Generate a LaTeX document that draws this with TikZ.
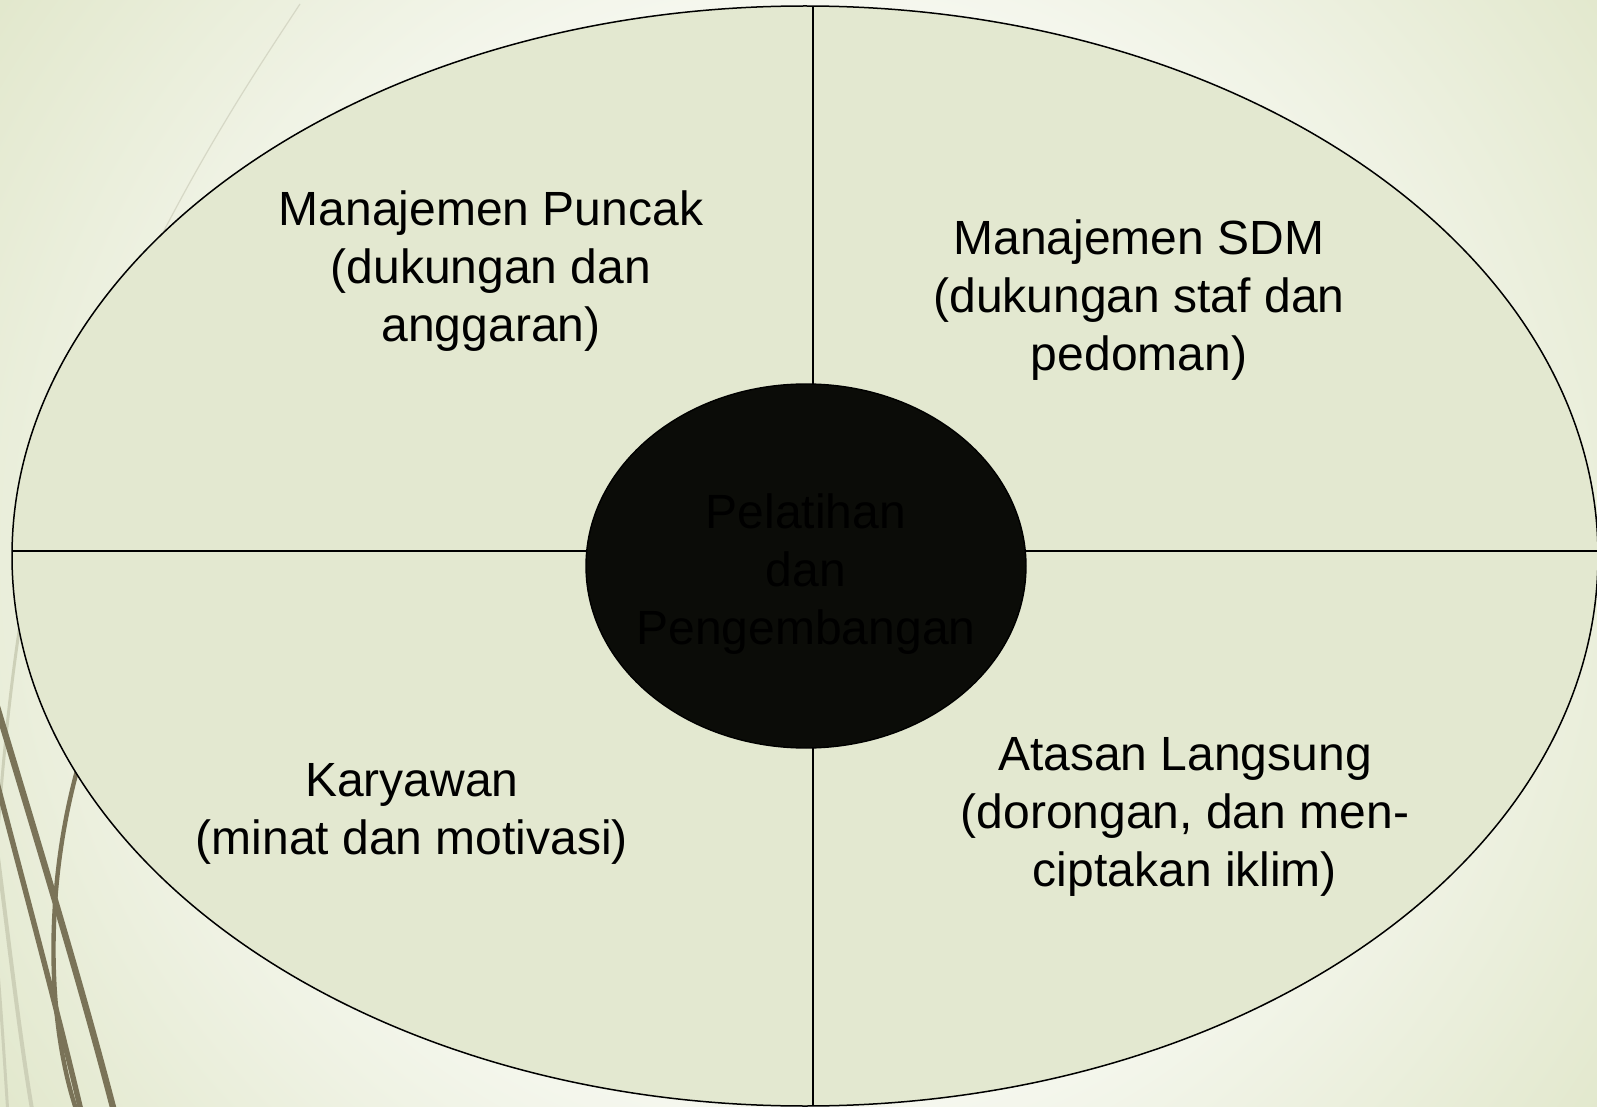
\documentclass[tikz,border=0pt]{standalone}
\usepackage{fontspec}
\setmainfont{Liberation Sans}
\usetikzlibrary{shapes.geometric}

\definecolor{bglight}{HTML}{F5F7EE}
\definecolor{bgdark}{HTML}{E1E7CB}
\definecolor{ringfill}{HTML}{E3E8D0}
\definecolor{corefill}{HTML}{0B0C08}
\definecolor{wispbrown}{HTML}{7A7358}
\definecolor{wispgrey}{HTML}{CDD0B8}
\definecolor{wispfaint}{HTML}{D6D8C6}

\pgfdeclareradialshading{wispbg}{\pgfpoint{0bp}{0bp}}{color(0bp)=(bglight); color(14bp)=(bglight); color(25bp)=(bgdark); color(50bp)=(bgdark)}

\begin{document}
\begin{tikzpicture}[x=0.5pt, y=-0.5pt,
    quad/.style={align=center, font=\fontsize{24}{28.8}\selectfont},
    wisp/.style={wispbrown, line cap=round},
    coreshape/.style={ellipse, draw, fill=corefill, line width=0.7pt, minimum width=220pt, minimum height=182pt, inner sep=0pt}]
\useasboundingbox (0,0) rectangle (1597,1107);

% background and wisps
\begin{scope}
  \clip (0,0) rectangle (1597,1107);
  \shade[shading=wispbg] (805,556) circle (1000);
  \draw[wispfaint, line width=0.6pt] (300,4) .. controls (250,80) and (190,170) .. (120,320);
  \draw[wispgrey, line width=1.5pt] (20,625) .. controls (10,690) and (3,760) .. (-2,830);
  \draw[wispgrey, line width=2pt] (-3,850) .. controls (10,950) and (20,1040) .. (33,1115);
  \draw[wispgrey, line width=1.5pt] (-3,960) .. controls (2,1020) and (5,1070) .. (8,1115);
  \draw[wisp, line width=3.2pt] (-5,700) .. controls (40,850) and (80,980) .. (115,1115);
  \draw[wisp, line width=2.7pt] (-5,775) .. controls (25,890) and (55,1000) .. (82,1115);
  \draw[wisp, line width=2.2pt] (80,760) .. controls (45,880) and (45,1020) .. (78,1115);
\end{scope}

% outer ring split in four
\draw[fill=ringfill, line width=0.75pt] (805,556) ellipse [x radius=793, y radius=550];
\coordinate (W) at (12.5,551);
\coordinate (E) at (1598,551);
\coordinate (N) at (813,6);
\coordinate (S) at (813,1106);
\draw[line width=0.7pt] (W) -- (E) (N) -- (S);

\node[coreshape] (core) at (806,566) {};
\node[quad, yshift=-4pt] (coretext) at (core) {Pelatihan\\dan\\Pengembangan};

\node[quad] (puncak) at (491,271) {Manajemen Puncak\\(dukungan dan\\anggaran)};
\node[quad] (sdm) at (1139,300) {Manajemen SDM\\(dukungan staf dan\\pedoman)};
\node[quad] (karyawan) at (412,814) {Karyawan\\(minat dan motivasi)};
\node[quad] (atasan) at (1185,817) {Atasan Langsung\\(dorongan, dan men-\\ciptakan iklim)};
\end{tikzpicture}
\end{document}
